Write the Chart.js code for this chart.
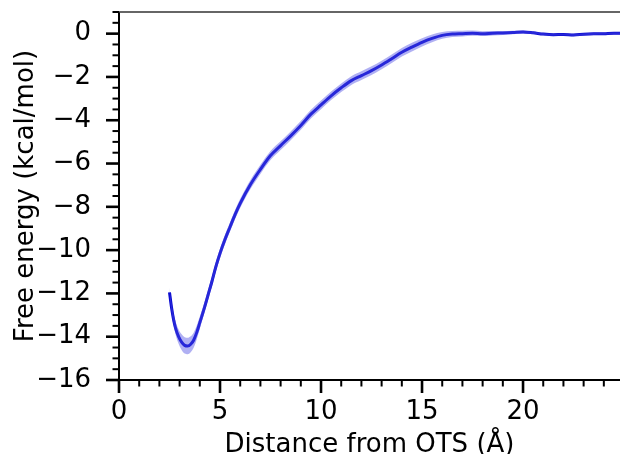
<!DOCTYPE html>
<html>
<head>
<meta charset="utf-8">
<script src="https://cdn.jsdelivr.net/npm/chart.js@4/dist/chart.umd.min.js"></script>
<style>
  html, body { margin: 0; padding: 0; background: #fff; }
  #wrap { width: 620px; height: 454px; }
</style>
</head>
<body>
<div id="wrap"><canvas id="fe" width="620" height="454"></canvas></div>
<script>
// free energy profile vs distance from the OTS surface
const distance = [2.5, 2.6, 2.7, 2.8, 2.95, 3.1, 3.25, 3.4, 3.55, 3.7, 3.85, 4.0, 4.2, 4.4, 4.6, 4.8,
  5.0, 5.25, 5.5, 5.75, 6.0, 6.5, 7.0, 7.5, 8.0, 8.5, 9.0, 9.5, 10.0, 10.5, 11.0, 11.5, 12.0, 12.5,
  13.0, 13.5, 14.0, 14.5, 15.0, 15.5, 16.0, 16.5, 17.0, 17.5, 18.0, 18.5, 19.0, 19.5, 20.0, 20.5,
  21.0, 21.5, 22.0, 22.5, 23.0, 23.5, 24.0, 24.5, 24.8];
const energy = [-11.95, -12.65, -13.2, -13.6, -14.0, -14.25, -14.4, -14.43, -14.35, -14.15, -13.8, -13.35, -12.75, -12.1, -11.45, -10.75,
  -10.15, -9.5, -8.92, -8.35, -7.84, -6.98, -6.27, -5.63, -5.17, -4.72, -4.24, -3.72, -3.29, -2.87, -2.5, -2.17, -1.94, -1.71,
  -1.45, -1.16, -0.86, -0.62, -0.4, -0.22, -0.08, -0.02, 0.0, 0.02, 0.0, 0.02, 0.03, 0.05, 0.08, 0.04,
  -0.02, -0.05, -0.04, -0.06, -0.03, -0.01, 0.0, 0.02, 0.02];
const energyErr = [0.2, 0.24, 0.27, 0.3, 0.33, 0.36, 0.38, 0.38, 0.37, 0.35, 0.32, 0.28, 0.25, 0.23, 0.22, 0.22,
  0.22, 0.22, 0.21, 0.21, 0.21, 0.21, 0.21, 0.21, 0.2, 0.2, 0.2, 0.2, 0.2, 0.2, 0.2, 0.2, 0.2, 0.2,
  0.2, 0.2, 0.2, 0.2, 0.19, 0.18, 0.16, 0.14, 0.13, 0.12, 0.11, 0.1, 0.09, 0.08, 0.07, 0.06,
  0.05, 0.05, 0.05, 0.05, 0.05, 0.05, 0.05, 0.05, 0.05];
const xMajorTicks = [0, 5, 10, 15, 20];
const yMajorTicks = [0, -2, -4, -6, -8, -10, -12, -14, -16];

const FONT = "'DejaVu Sans', 'Liberation Sans', sans-serif";
const pts = (ys) => distance.map((x, i) => ({ x, y: ys[i] }));
const lower = pts(energy.map((v, i) => v - energyErr[i]));
const upper = pts(energy.map((v, i) => v + energyErr[i]));

const fmt = (v) => (v < 0 ? '\u2212' + Math.abs(v) : String(v));

// spines plus matplotlib-style major/minor tick marks
const axesFrame = {
  id: 'axesFrame',
  afterDraw(chart) {
    const { ctx, chartArea: a, scales } = chart;
    ctx.save();
    ctx.strokeStyle = '#000';
    ctx.lineCap = 'butt';
    scales.x.ticks.forEach(t => {
      const px = scales.x.getPixelForValue(t.value);
      const major = xMajorTicks.includes(t.value);
      ctx.lineWidth = major ? 2.6 : 2;
      ctx.beginPath();
      ctx.moveTo(px, a.bottom);
      ctx.lineTo(px, a.bottom + (major ? 13 : 6.5));
      ctx.stroke();
    });
    scales.y.ticks.forEach(t => {
      const py = scales.y.getPixelForValue(t.value);
      const major = yMajorTicks.includes(t.value);
      ctx.lineWidth = major ? 2.6 : 2;
      ctx.beginPath();
      ctx.moveTo(a.left, py);
      ctx.lineTo(a.left - (major ? 13 : 6.5), py);
      ctx.stroke();
    });
    ctx.lineWidth = 2;
    ctx.beginPath();
    ctx.moveTo(a.left, a.top);
    ctx.lineTo(a.left, a.bottom);
    ctx.lineTo(a.right, a.bottom);
    ctx.stroke();
    ctx.strokeStyle = '#333';
    ctx.lineWidth = 1.5;
    ctx.beginPath();
    ctx.moveTo(a.left, a.top);
    ctx.lineTo(a.right, a.top);
    ctx.stroke();
    ctx.restore();
  }
};

new Chart(document.getElementById('fe'), {
  type: 'line',
  data: {
    datasets: [
      { data: lower, borderWidth: 0, pointRadius: 0, fill: false, cubicInterpolationMode: 'monotone' },
      { data: upper, borderWidth: 0, pointRadius: 0, fill: '-1', backgroundColor: 'rgba(80,80,228,0.45)', cubicInterpolationMode: 'monotone' },
      { data: pts(energy), borderColor: '#0606cf', borderWidth: 3, pointRadius: 0, fill: false, cubicInterpolationMode: 'monotone' }
    ]
  },
  options: {
    responsive: false,
    animation: false,
    events: [],
    layout: { padding: { top: 12, right: 0, left: 0, bottom: 0 } },
    plugins: { legend: { display: false }, tooltip: { enabled: false } },
    scales: {
      x: {
        type: 'linear', min: 0, max: 24.8,
        grid: { display: false }, border: { display: false },
        afterFit: s => { s.height = 74; s.paddingLeft = 0; s.paddingRight = 0; },
        ticks: {
          stepSize: 1, includeBounds: false, autoSkip: false, maxRotation: 0,
          padding: 9, color: '#000', font: { family: FONT, size: 26 },
          callback: v => (xMajorTicks.includes(v) ? fmt(v) : '')
        },
        title: { display: true, text: 'Distance from OTS (\u00c5)', color: '#000', font: { family: FONT, size: 26, lineHeight: 0.65 }, padding: { top: 0, bottom: 0 } }
      },
      y: {
        type: 'linear', min: -16, max: 1,
        grid: { display: false }, border: { display: false },
        afterFit: s => { s.width = 119; s.paddingTop = 0; s.paddingBottom = 0; },
        ticks: {
          stepSize: 0.5, includeBounds: false, autoSkip: false,
          padding: 20, color: '#000', font: { family: FONT, size: 26 },
          callback: v => (yMajorTicks.includes(v) ? fmt(v) : '')
        },
        title: { display: true, text: 'Free energy (kcal/mol)', color: '#000', font: { family: FONT, size: 26, lineHeight: 1.0 }, padding: { top: 13, bottom: 0 } }
      }
    }
  },
  plugins: [axesFrame]
});
</script>
</body>
</html>
